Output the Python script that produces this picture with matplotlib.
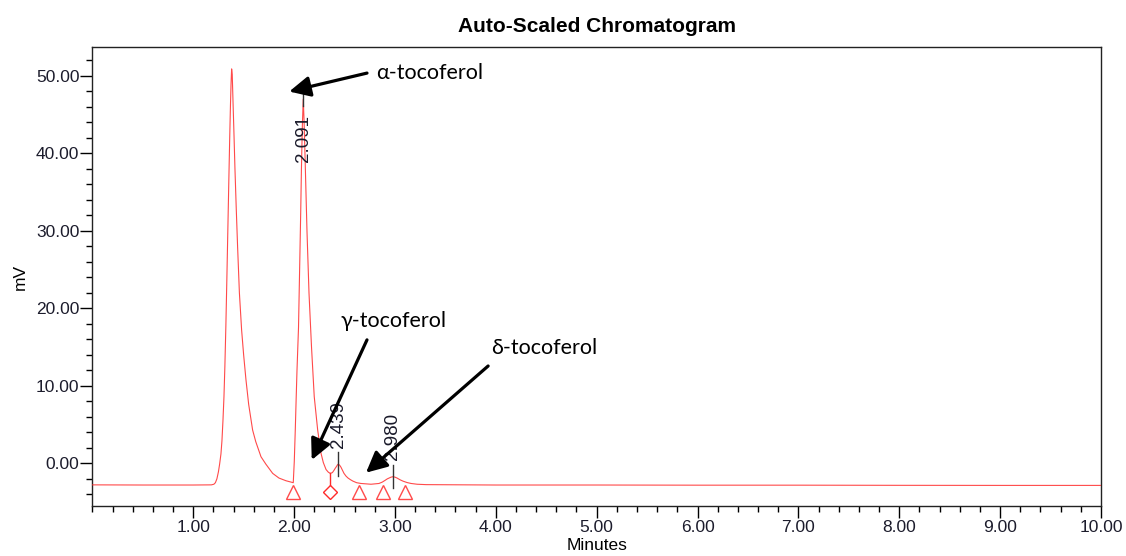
import matplotlib
matplotlib.use("Agg")
import matplotlib.pyplot as plt
from matplotlib.ticker import MultipleLocator, FixedLocator, FuncFormatter

# Detector trace (minutes, mV)
trace_minutes = [
    0.00, 0.50, 1.00, 1.180, 1.205, 1.220, 1.235, 1.250, 1.262, 1.275,
    1.285, 1.295, 1.305, 1.314, 1.324, 1.334, 1.344, 1.354, 1.362, 1.369,
    1.375, 1.381, 1.387, 1.394, 1.404, 1.414, 1.427, 1.440, 1.458, 1.480,
    1.500, 1.523, 1.550, 1.589, 1.620, 1.672, 1.720, 1.788, 1.850, 1.920,
    1.992, 2.002, 2.012, 2.020, 2.029, 2.044, 2.058, 2.066, 2.073, 2.082,
    2.091, 2.099, 2.108, 2.118, 2.128, 2.148, 2.173, 2.200, 2.234, 2.267,
    2.290, 2.317, 2.340, 2.359, 2.380, 2.396, 2.410, 2.421, 2.430, 2.439,
    2.452, 2.465, 2.480, 2.495, 2.515, 2.535, 2.560, 2.584, 2.620, 2.663,
    2.763, 2.842, 2.875, 2.902, 2.925, 2.942, 2.962, 2.980, 3.000, 3.021,
    3.050, 3.080, 3.120, 3.160, 3.220, 3.309, 4.00, 5.00, 6.00, 7.00,
    8.00, 9.00, 10.00,
]
trace_mv = [
    -2.78, -2.80, -2.80, -2.78, -2.70, -2.50, -2.00, -1.10, -0.10, 1.20,
    2.90, 5.50, 8.60, 12.50, 17.80, 24.00, 30.50, 37.00, 42.00, 46.00,
    48.90, 50.90, 50.20, 47.00, 42.60, 38.00, 32.80, 28.00, 22.00, 17.20,
    14.00, 10.80, 7.60, 4.30, 2.80, 0.85, -0.10, -1.30, -1.90, -2.25,
    -2.50, 0.20, 4.30, 8.00, 12.00, 17.50, 27.00, 32.50, 38.00, 43.50,
    47.00, 44.30, 40.00, 35.00, 30.00, 22.00, 15.00, 8.60, 4.30, 1.30,
    0.10, -0.80, -1.15, -1.30, -1.20, -0.90, -0.60, -0.40, -0.20, -0.10,
    -0.25, -0.50, -0.90, -1.30, -1.65, -1.90, -2.12, -2.30, -2.50, -2.60,
    -2.70, -2.60, -2.42, -2.20, -2.00, -1.90, -1.78, -1.73, -1.78, -1.90,
    -2.12, -2.30, -2.48, -2.60, -2.70, -2.75, -2.80, -2.80, -2.82, -2.82,
    -2.84, -2.85, -2.85,
]

# Integrated peaks
peak_rt = [2.091, 2.439, 2.980]
peak_mv = [47.0, -0.10, -1.73]
peak_labels = ["2.091", "2.439", "2.980"]

# Integration events
event_minutes = [1.99, 2.647, 2.885, 3.10]
valley_minutes = [2.359]
valley_mv = [-1.30]
baseline_mv = -2.75

# Compound annotations: label, text anchor, arrow tail, arrow tip
compounds = ["α-tocoferol", "γ-tocoferol", "δ-tocoferol"]
compound_text_xy = [(2.812, 50.4), (2.465, 18.4), (3.953, 14.9)]
compound_tail_xy = [(2.723, 50.36), (2.723, 15.93), (3.924, 12.56)]
compound_tip_xy = [(1.952, 47.98), (2.175, 0.43), (2.713, -1.21)]

x_major = [1, 2, 3, 4, 5, 6, 7, 8, 9, 10]
y_major = [0, 10, 20, 30, 40, 50]

plt.rcParams["font.family"] = ["Liberation Sans", "DejaVu Sans"]

fig = plt.figure(figsize=(11.26, 5.56), dpi=100)
ax = fig.add_axes([0.0820, 0.0899, 0.8958, 0.8252])

red = "#ff2a2a"
ax.plot(trace_minutes, trace_mv, color=red, lw=0.8, alpha=0.85, zorder=3)

# event markers sit with their apex on the baseline
marker_y = baseline_mv - 0.97
ax.plot(event_minutes, [marker_y] * len(event_minutes), linestyle="none",
        marker="^", ms=10.5, mfc="none", mec=red, mew=1.0, alpha=0.85, zorder=4)
ax.plot(valley_minutes, [marker_y] * len(valley_minutes), linestyle="none",
        marker="D", ms=7.3, mfc="none", mec=red, mew=1.0, zorder=4)
for vx, vy in zip(valley_minutes, valley_mv):
    ax.plot([vx, vx], [vy, baseline_mv], color=red, lw=1.0, zorder=4)

# retention-time labels
for rt, mv, lab in zip(peak_rt, peak_mv, peak_labels):
    if mv > 30:
        ax.plot([rt, rt], [mv - 0.9, mv + 0.6], color="#333333", lw=1.0, zorder=5)
        ax.text(rt, mv - 2.0, lab, rotation=90, ha="center", va="top",
                fontsize=13.5, color="#1a1a2a", zorder=6)
    else:
        ax.plot([rt, rt], [mv - 1.5, mv + 1.5], color="#333333", lw=1.0, zorder=5)
        ax.text(rt, mv + 2.1, lab, rotation=90, ha="center", va="bottom",
                fontsize=13.5, color="#1a1a2a", zorder=6)

# compound names with arrows
for name, txy, tail, tip in zip(compounds, compound_text_xy, compound_tail_xy, compound_tip_xy):
    ax.text(txy[0], txy[1], name, ha="left", va="center", fontsize=15.5,
            family=["Lato", "Open Sans", "DejaVu Sans"], color="black", zorder=7)
    ax.annotate("", xy=tip, xytext=tail,
                arrowprops=dict(arrowstyle="-|>,head_length=0.55,head_width=0.27",
                                mutation_scale=23, lw=2.3, color="black",
                                shrinkA=0, shrinkB=0), zorder=7)

ax.set_xlim(0, 10)
ax.set_ylim(-5.51, 53.7)
ax.xaxis.set_major_locator(FixedLocator(x_major))
ax.xaxis.set_minor_locator(MultipleLocator(0.2))
ax.yaxis.set_major_locator(FixedLocator(y_major))
ax.yaxis.set_minor_locator(MultipleLocator(2))
fmt = FuncFormatter(lambda v, p: f"{v:.2f}")
ax.xaxis.set_major_formatter(fmt)
ax.yaxis.set_major_formatter(fmt)

ax.tick_params(which="major", length=8.5, width=1.0, direction="out",
               labelsize=12.5, labelcolor="#1c1c2c", pad=1.5)
ax.tick_params(which="minor", length=4.0, width=1.0, direction="out")
ax.tick_params(axis="y", which="both", pad=0.8)
for s in ax.spines.values():
    s.set_linewidth(1.0)
    s.set_color("#222222")

ax.set_xlabel("Minutes", fontsize=12.5, labelpad=2)
ax.set_ylabel("mV", fontsize=12.5, labelpad=6)
ax.set_title("Auto-Scaled Chromatogram", fontsize=15, fontweight="bold", pad=11)

fig.savefig("out.png", dpi=100)
